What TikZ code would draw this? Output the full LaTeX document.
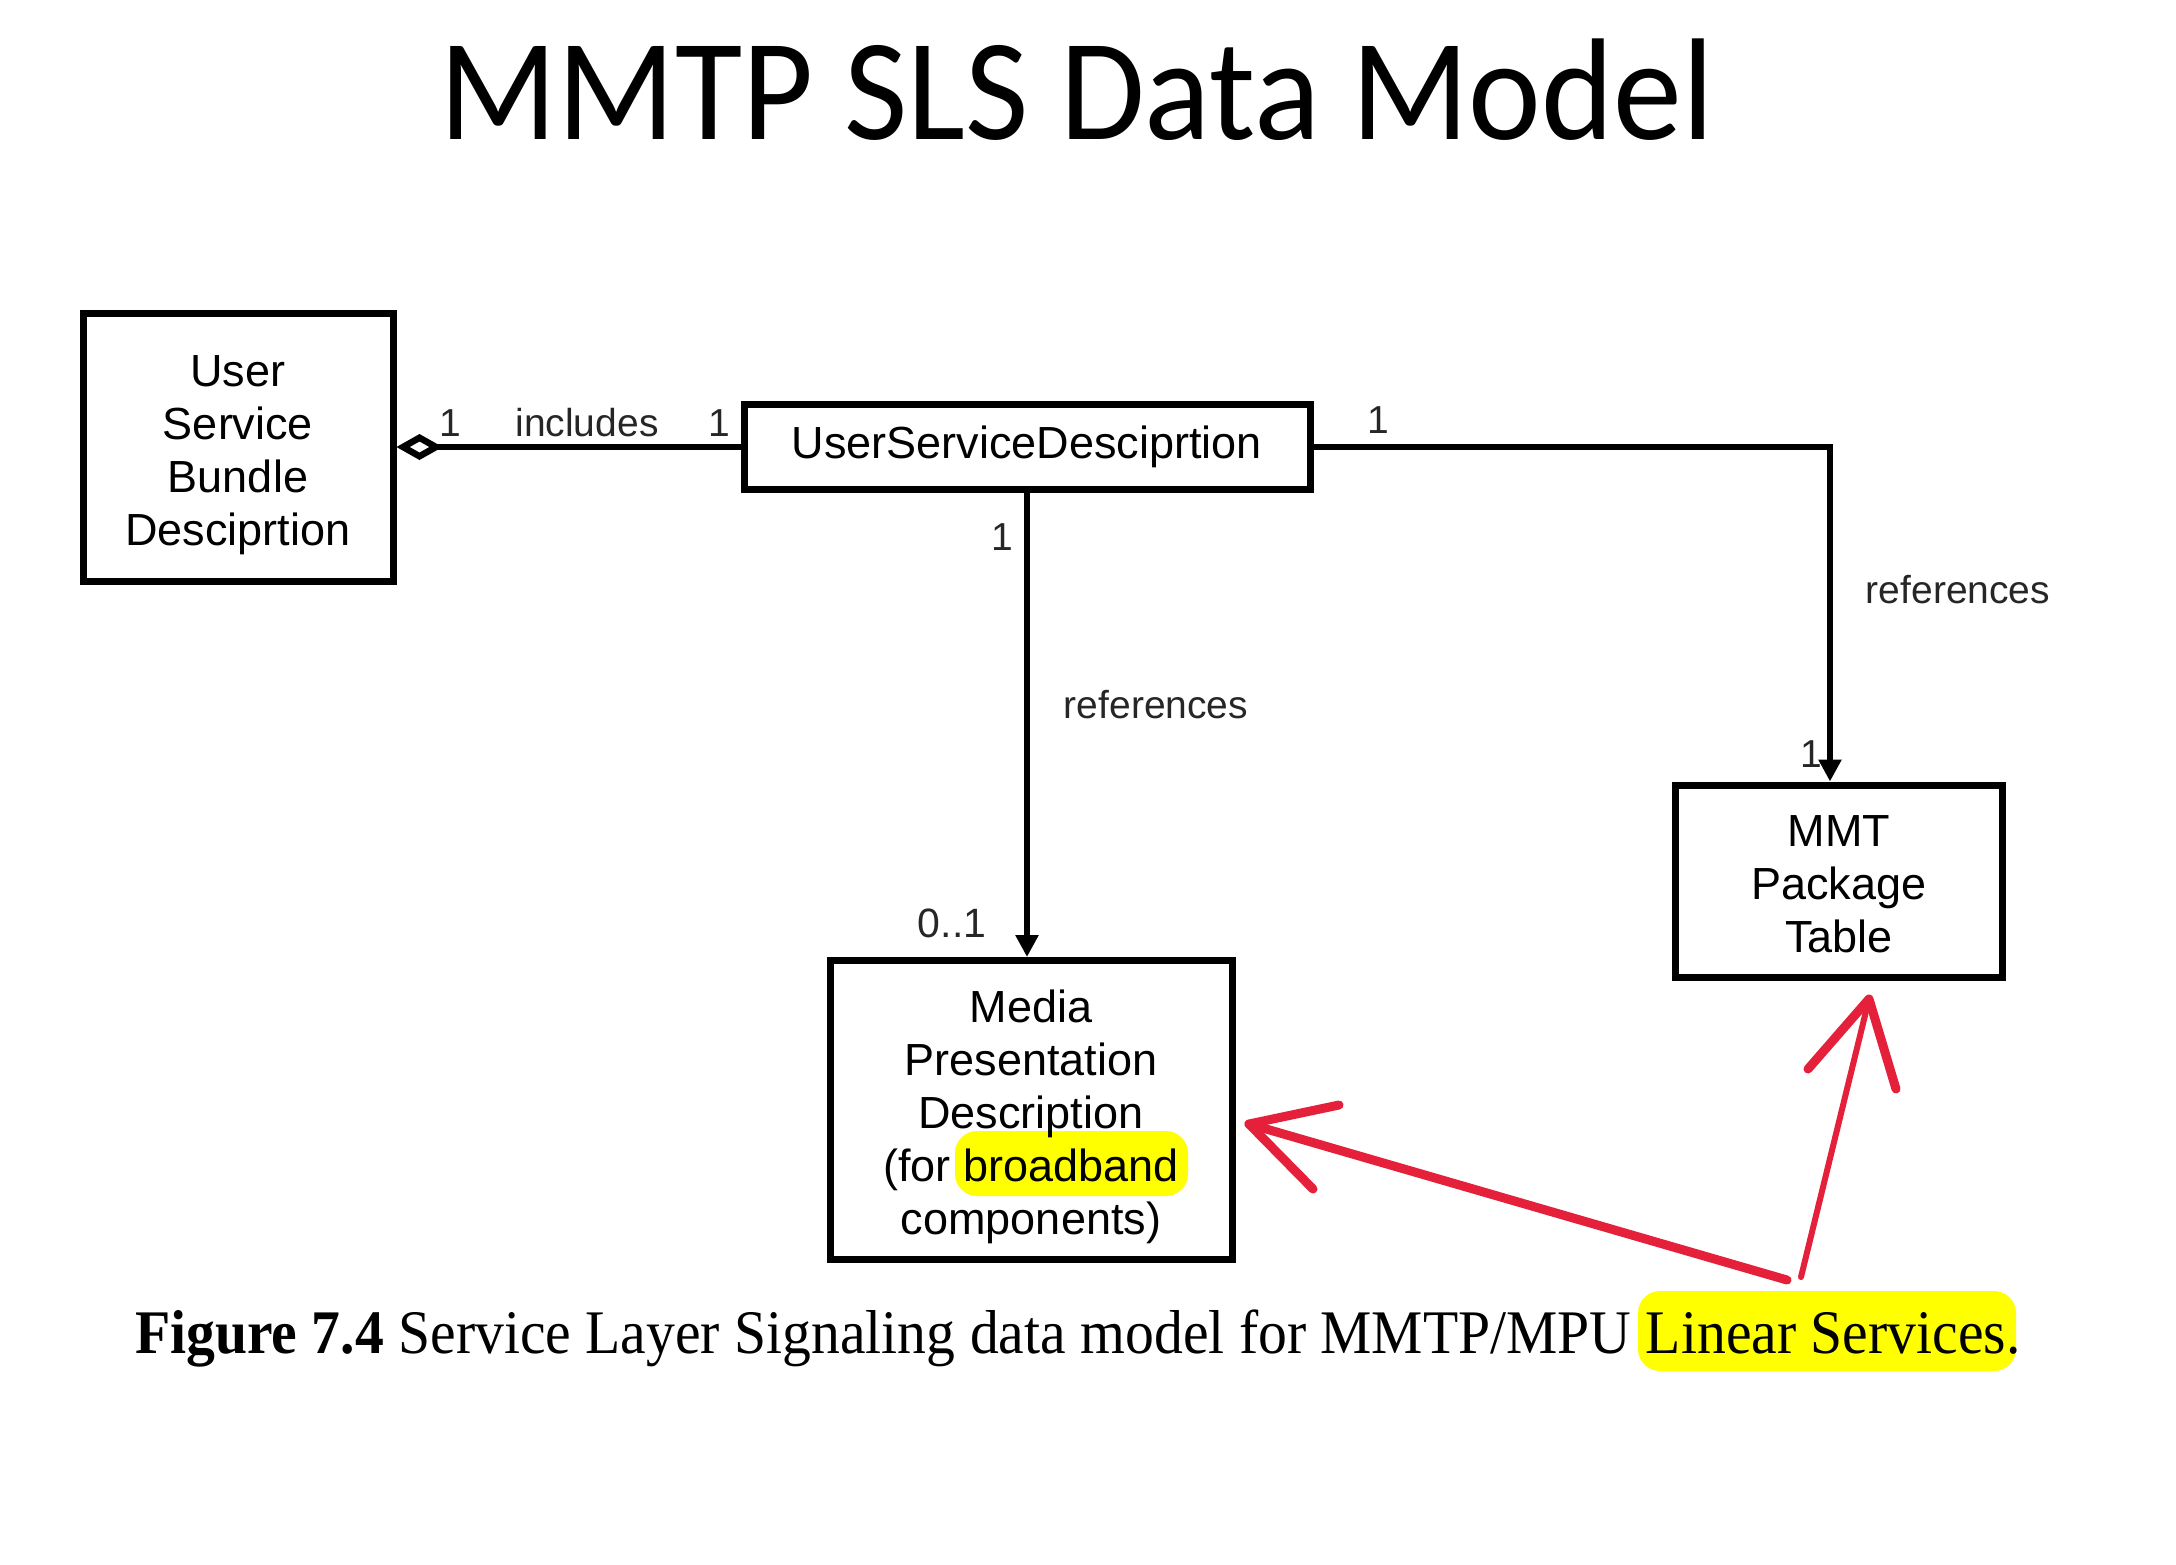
\documentclass[tikz,border=0pt]{standalone}
\usepackage{fontspec}
\setmainfont{Liberation Sans}
\newfontfamily\titlefont{Carlito}
\newfontfamily\capfont{Liberation Serif}
\usetikzlibrary{arrows.meta,calc}
\definecolor{redarrow}{RGB}{228,32,58}
\definecolor{hilite}{RGB}{255,255,0}
\newcommand{\topstrut}[1]{\rule{0pt}{#1}}
\tikzset{
  umlbox/.style={draw, line width=7pt, align=center, inner sep=0pt,
    font=\fontsize{45}{53}\selectfont},
  conn/.style={line width=6.5pt},
  lbl/.style={font=\fontsize{39}{45}\selectfont, inner sep=0pt, text=black!85},
  hl/.style={fill=hilite, rounded corners=22pt},
  redline/.style={draw=redarrow, line cap=round, line join=round}
}
\begin{document}
\begin{tikzpicture}[x=1pt,y=-1pt]
\useasboundingbox (0,0) rectangle (2176,1564);
% title
\node[anchor=base, inner sep=0pt, font=\titlefont\fontsize{145}{150}\selectfont] (title) at (1077,139) {\scalebox{0.95}[1]{MMTP SLS Data Model}};
% highlights
\fill[hl] (955,1131) rectangle (1188,1196);
\fill[hl] (1638,1291) rectangle (2016,1371);
% boxes
\node[umlbox, minimum width=310pt, minimum height=268pt] (USBD) at (238,447) {\topstrut{48pt}User\\Service\\Bundle\\Desciprtion};
\node[umlbox, minimum width=566pt, minimum height=85pt] (USD) at (1027,447) {UserServiceDesciprtion};
\node[umlbox, minimum width=327pt, minimum height=192pt] (MMT) at (1839,881) {\topstrut{38pt}MMT\\Package\\Table};
\node[umlbox, minimum width=402pt, minimum height=299pt] (MPD) at (1031,1110) {\topstrut{46pt}Media\\Presentation\\Description\\(for broadband\\components)};
% connectors
\draw[conn, {Diamond[open,length=46pt,width=26pt]}-] (USBD.east) -- (USD.west);
\coordinate (mmtin) at ($(MMT.north)+(-9,0)$);
\draw[conn, -{Triangle[length=22pt,width=22pt]}] (USD.east) -| (mmtin);
\draw[conn, -{Triangle[length=22pt,width=22pt]}] (USD.south) -- (USD.south |- MPD.north);
% labels
\node[lbl] (l1) at (450,423) {1};
\node[lbl] (linc) at (587,423) {includes};
\node[lbl] (l2) at (719,423) {1};
\node[lbl] (l3) at (1378,420) {1};
\node[lbl] (lref1) at (1958,590) {references};
\node[lbl] (l4) at (1811,754) {1};
\node[lbl] (l5) at (1002,537) {1};
\node[lbl] (lref2) at (1156,705) {references};
\node[lbl, font=\fontsize{41}{45}\selectfont] (l6) at (952,923) {0..1};
% caption
\node[anchor=base west, inner sep=0pt, font=\capfont\fontsize{62}{66}\selectfont] (cap) at (135,1353) {\scalebox{0.93}[1]{\textbf{Figure 7.4} Service Layer Signaling data model for MMTP/MPU Linear Services.}};
% red arrows
\coordinate (s1) at (1787,1280);
\coordinate (t1) at (1249,1124);
\coordinate (h1a) at (1339,1105);
\coordinate (h1b) at (1313,1189);
\coordinate (s2) at (1801,1277);
\coordinate (t2) at (1869,999);
\coordinate (h2a) at (1808,1069);
\coordinate (h2b) at (1896,1089);
\draw[redline, line width=9pt] (s1) -- (t1);
\draw[redline, line width=9pt] (h1a) -- (t1) -- (h1b);
\draw[redline, line width=6pt] (s2) -- (t2);
\draw[redline, line width=9pt] (h2a) -- (t2) -- (h2b);
\end{tikzpicture}
\end{document}
